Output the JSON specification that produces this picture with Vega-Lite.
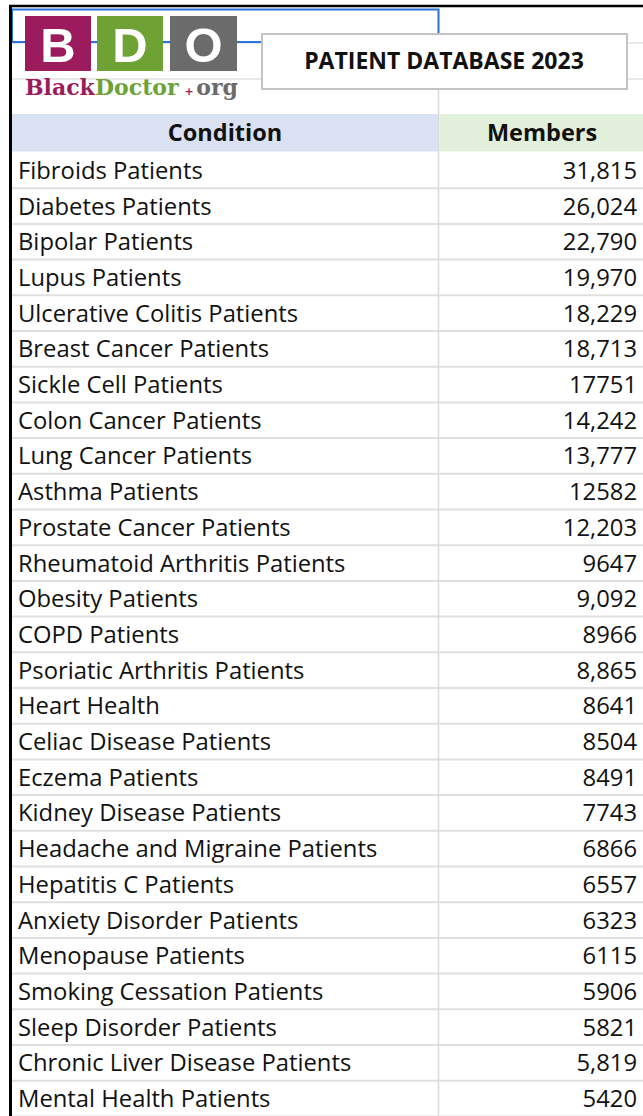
{
  "$schema": "https://vega.github.io/schema/vega-lite/v6.json",
  "width": 643,
  "height": 1116,
  "autosize": "none",
  "padding": 0,
  "background": "white",
  "config": {"view": {"stroke": null}},
  "data": {"values": [
    {"Condition": "Fibroids Patients", "Members": 31815, "Label": "31,815"},
    {"Condition": "Diabetes Patients", "Members": 26024, "Label": "26,024"},
    {"Condition": "Bipolar Patients", "Members": 22790, "Label": "22,790"},
    {"Condition": "Lupus Patients", "Members": 19970, "Label": "19,970"},
    {"Condition": "Ulcerative Colitis Patients", "Members": 18229, "Label": "18,229"},
    {"Condition": "Breast Cancer Patients", "Members": 18713, "Label": "18,713"},
    {"Condition": "Sickle Cell Patients", "Members": 17751, "Label": "17751"},
    {"Condition": "Colon Cancer Patients", "Members": 14242, "Label": "14,242"},
    {"Condition": "Lung Cancer Patients", "Members": 13777, "Label": "13,777"},
    {"Condition": "Asthma Patients", "Members": 12582, "Label": "12582"},
    {"Condition": "Prostate Cancer Patients", "Members": 12203, "Label": "12,203"},
    {"Condition": "Rheumatoid Arthritis Patients", "Members": 9647, "Label": "9647"},
    {"Condition": "Obesity Patients", "Members": 9092, "Label": "9,092"},
    {"Condition": "COPD Patients", "Members": 8966, "Label": "8966"},
    {"Condition": "Psoriatic Arthritis Patients", "Members": 8865, "Label": "8,865"},
    {"Condition": "Heart Health", "Members": 8641, "Label": "8641"},
    {"Condition": "Celiac Disease Patients", "Members": 8504, "Label": "8504"},
    {"Condition": "Eczema Patients", "Members": 8491, "Label": "8491"},
    {"Condition": "Kidney Disease Patients", "Members": 7743, "Label": "7743"},
    {"Condition": "Headache and Migraine Patients", "Members": 6866, "Label": "6866"},
    {"Condition": "Hepatitis C Patients", "Members": 6557, "Label": "6557"},
    {"Condition": "Anxiety Disorder Patients", "Members": 6323, "Label": "6323"},
    {"Condition": "Menopause Patients", "Members": 6115, "Label": "6115"},
    {"Condition": "Smoking Cessation Patients", "Members": 5906, "Label": "5906"},
    {"Condition": "Sleep Disorder Patients", "Members": 5821, "Label": "5821"},
    {"Condition": "Chronic Liver Disease Patients", "Members": 5819, "Label": "5,819"},
    {"Condition": "Mental Health Patients", "Members": 5420, "Label": "5420"}
  ]},
  "resolve": {"scale": {"y": "independent"}},
  "layer": [
    {
      "layer": [
        {
          "mark": {"type": "rule", "stroke": "#e0e0e0", "strokeWidth": 2},
          "encoding": {
            "y": {"field": "Condition", "type": "nominal", "sort": null, "bandPosition": 1, "axis": null, "scale": {"range": [152.5, 1116.4], "paddingInner": 0, "paddingOuter": 0}},
            "x": {"datum": 10, "type": "quantitative", "axis": null, "scale": {"domain": [0, 643], "nice": false, "zero": false}},
            "x2": {"datum": 643}
          }
        },
        {
          "mark": {"type": "text", "align": "left", "baseline": "middle", "font": "Open Sans", "fontSize": 23.8, "color": "#111111", "dy": 1.5},
          "encoding": {
            "y": {"field": "Condition", "type": "nominal", "sort": null, "axis": null, "scale": {"range": [152.5, 1116.4], "paddingInner": 0, "paddingOuter": 0}},
            "x": {"datum": 18, "type": "quantitative", "axis": null, "scale": {"domain": [0, 643], "nice": false, "zero": false}},
            "text": {"field": "Condition"}
          }
        },
        {
          "mark": {"type": "text", "align": "right", "baseline": "middle", "font": "Open Sans", "fontSize": 23.8, "color": "#111111", "dy": 1.5},
          "encoding": {
            "y": {"field": "Condition", "type": "nominal", "sort": null, "axis": null, "scale": {"range": [152.5, 1116.4], "paddingInner": 0, "paddingOuter": 0}},
            "x": {"datum": 637, "type": "quantitative", "axis": null, "scale": {"domain": [0, 643], "nice": false, "zero": false}},
            "text": {"field": "Label"}
          }
        }
      ]
    },
    {
      "data": {"values": [{}]},
      "layer": [
        {
          "mark": {"type": "rule", "stroke": "#e0e0e0", "strokeWidth": 1.5},
          "encoding": {
            "x": {"datum": 10, "type": "quantitative", "axis": null, "scale": {"domain": [0, 643], "nice": false, "zero": false}},
            "x2": {"datum": 643},
            "y": {"datum": 43, "type": "quantitative", "axis": null, "scale": {"domain": [0, 1116], "nice": false, "zero": false, "reverse": true}}
          }
        },
        {
          "mark": {"type": "rule", "stroke": "#e0e0e0", "strokeWidth": 1.5},
          "encoding": {
            "x": {"datum": 10, "type": "quantitative"},
            "x2": {"datum": 643},
            "y": {"datum": 79, "type": "quantitative"}
          }
        },
        {
          "mark": {"type": "rule", "stroke": "#d9d9d9", "strokeWidth": 1.5},
          "encoding": {
            "x": {"datum": 438.5, "type": "quantitative"},
            "y": {"datum": 9, "type": "quantitative"},
            "y2": {"datum": 1116}
          }
        },
        {
          "mark": {"type": "rect", "fill": "#d9e1f2"},
          "encoding": {
            "x": {"datum": 10, "type": "quantitative"},
            "x2": {"datum": 438},
            "y": {"datum": 114, "type": "quantitative"},
            "y2": {"datum": 151.5}
          }
        },
        {
          "mark": {"type": "rect", "fill": "#e2efda"},
          "encoding": {
            "x": {"datum": 439.2, "type": "quantitative"},
            "x2": {"datum": 643},
            "y": {"datum": 114, "type": "quantitative"},
            "y2": {"datum": 151.5}
          }
        },
        {
          "mark": {"type": "text", "text": "Condition", "align": "center", "baseline": "middle", "font": "Open Sans", "fontWeight": "bold", "fontSize": 23.5, "color": "#111111"},
          "encoding": {
            "x": {"datum": 225, "type": "quantitative"},
            "y": {"datum": 134, "type": "quantitative"}
          }
        },
        {
          "mark": {"type": "text", "text": "Members", "align": "center", "baseline": "middle", "font": "Open Sans", "fontWeight": "bold", "fontSize": 23.5, "color": "#111111"},
          "encoding": {
            "x": {"datum": 542, "type": "quantitative"},
            "y": {"datum": 134, "type": "quantitative"}
          }
        },
        {
          "mark": {"type": "rect", "fillOpacity": 0, "stroke": "#2a72dc", "strokeWidth": 2},
          "encoding": {
            "x": {"datum": 12, "type": "quantitative"},
            "x2": {"datum": 438.5},
            "y": {"datum": 9.5, "type": "quantitative"},
            "y2": {"datum": 42}
          }
        },
        {
          "mark": {"type": "rect", "fill": "#9b1b5d"},
          "encoding": {
            "x": {"datum": 25, "type": "quantitative"},
            "x2": {"datum": 91},
            "y": {"datum": 16, "type": "quantitative"},
            "y2": {"datum": 71}
          }
        },
        {
          "mark": {"type": "rect", "fill": "#6ea235"},
          "encoding": {
            "x": {"datum": 97, "type": "quantitative"},
            "x2": {"datum": 163},
            "y": {"datum": 16, "type": "quantitative"},
            "y2": {"datum": 71}
          }
        },
        {
          "mark": {"type": "rect", "fill": "#6b6b6b"},
          "encoding": {
            "x": {"datum": 170, "type": "quantitative"},
            "x2": {"datum": 237},
            "y": {"datum": 16, "type": "quantitative"},
            "y2": {"datum": 71}
          }
        },
        {
          "mark": {"type": "text", "text": "B", "align": "center", "baseline": "alphabetic", "font": "Liberation Sans", "fontWeight": "bold", "fontSize": 49, "color": "white"},
          "encoding": {
            "x": {"datum": 58, "type": "quantitative"},
            "y": {"datum": 62, "type": "quantitative"}
          }
        },
        {
          "mark": {"type": "text", "text": "D", "align": "center", "baseline": "alphabetic", "font": "Liberation Sans", "fontWeight": "bold", "fontSize": 49, "color": "white"},
          "encoding": {
            "x": {"datum": 130, "type": "quantitative"},
            "y": {"datum": 62, "type": "quantitative"}
          }
        },
        {
          "mark": {"type": "text", "text": "O", "align": "center", "baseline": "alphabetic", "font": "Liberation Sans", "fontWeight": "bold", "fontSize": 49, "color": "white"},
          "encoding": {
            "x": {"datum": 203.5, "type": "quantitative"},
            "y": {"datum": 62, "type": "quantitative"}
          }
        },
        {
          "mark": {"type": "text", "text": "Black", "align": "left", "baseline": "alphabetic", "font": "DejaVu Serif", "fontWeight": "bold", "fontSize": 22, "color": "#9b1b5d"},
          "encoding": {
            "x": {"datum": 25, "type": "quantitative"},
            "y": {"datum": 95, "type": "quantitative"}
          }
        },
        {
          "mark": {"type": "text", "text": "Doctor", "align": "left", "baseline": "alphabetic", "font": "DejaVu Serif", "fontWeight": "bold", "fontSize": 22, "color": "#6ea235"},
          "encoding": {
            "x": {"datum": 95, "type": "quantitative"},
            "y": {"datum": 95, "type": "quantitative"}
          }
        },
        {
          "mark": {"type": "text", "text": "+", "align": "center", "baseline": "alphabetic", "font": "DejaVu Sans", "fontWeight": "bold", "fontSize": 11, "color": "#9b1b5d"},
          "encoding": {
            "x": {"datum": 189, "type": "quantitative"},
            "y": {"datum": 95, "type": "quantitative"}
          }
        },
        {
          "mark": {"type": "text", "text": "org", "align": "right", "baseline": "alphabetic", "font": "DejaVu Serif", "fontWeight": "bold", "fontSize": 22, "color": "#6b6b6b"},
          "encoding": {
            "x": {"datum": 238, "type": "quantitative"},
            "y": {"datum": 95, "type": "quantitative"}
          }
        },
        {
          "mark": {"type": "rect", "fill": "white", "stroke": "#c3c3c3", "strokeWidth": 2},
          "encoding": {
            "x": {"datum": 262, "type": "quantitative"},
            "x2": {"datum": 627},
            "y": {"datum": 34, "type": "quantitative"},
            "y2": {"datum": 89}
          }
        },
        {
          "mark": {"type": "text", "text": "PATIENT DATABASE 2023", "align": "center", "baseline": "middle", "font": "Open Sans", "fontWeight": "bold", "fontSize": 23, "color": "#111111"},
          "encoding": {
            "x": {"datum": 444, "type": "quantitative"},
            "y": {"datum": 62, "type": "quantitative"}
          }
        },
        {
          "mark": {"type": "rule", "stroke": "#000000", "strokeWidth": 2.5},
          "encoding": {
            "x": {"datum": 9, "type": "quantitative"},
            "x2": {"datum": 643},
            "y": {"datum": 6, "type": "quantitative"}
          }
        },
        {
          "mark": {"type": "rule", "stroke": "#000000", "strokeWidth": 3},
          "encoding": {
            "x": {"datum": 10.5, "type": "quantitative"},
            "y": {"datum": 5, "type": "quantitative"},
            "y2": {"datum": 1116}
          }
        }
      ]
    }
  ]
}
